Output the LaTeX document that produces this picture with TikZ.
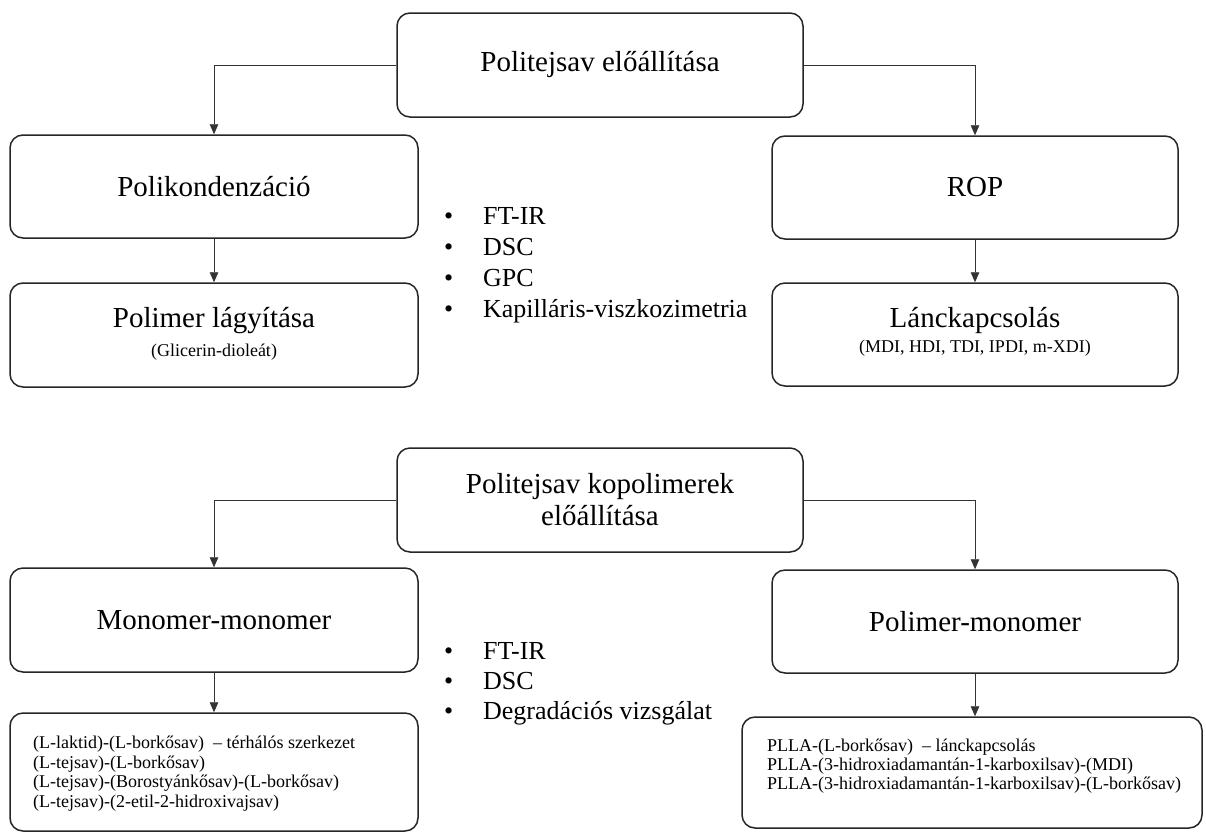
\documentclass[tikz,border=0pt]{standalone}
\usepackage{fontspec}
\setmainfont{Liberation Serif}
\usetikzlibrary{arrows.meta}
\begin{document}
\begin{tikzpicture}[x=1pt,y=-1pt,
  box/.style={draw=black!85, line width=1.5pt, rounded corners=13pt, inner sep=0pt},
  conn/.style={draw=black!80, line width=0.9pt, -{Triangle[length=10pt,width=8.5pt]}},
  title/.style={font=\fontsize{29}{33}\selectfont, align=center},
  subt/.style={font=\fontsize{18}{20}\selectfont, inner sep=0pt},
  small/.style={font=\fontsize{18}{19.7}\selectfont, inner sep=0pt, align=left, anchor=west},
  blist/.style={font=\fontsize{26}{31}\selectfont, inner sep=0pt, align=left, anchor=west}]
\useasboundingbox (0,0) rectangle (1206,833);
\fill[white] (0,0) rectangle (1206,833);

% ---------- section 1 ----------
\node[box, title, minimum width=406pt, minimum height=104pt] (t1) at (600,65) {Politejsav előállítása};
\node[box, title, minimum width=408pt, minimum height=103pt] (p1) at (214,186.5) {Polikondenzáció};
\node[box, minimum width=408pt, minimum height=104pt] (p2) at (214,335) {};
\node[title, inner sep=0pt] (p2t) at (214,321) {Polimer lágyítása};
\node[subt] (p2s) at (214,352) {(Glicerin-dioleát)};
\node[box, title, minimum width=406pt, minimum height=103pt] (r1) at (975,187.5) {ROP};
\node[box, minimum width=406pt, minimum height=103pt] (r2) at (975,334.5) {};
\node[title, inner sep=0pt] (r2t) at (975,320) {Lánckapcsolás};
\node[subt] (r2s) at (975,348) {(MDI, HDI, TDI, IPDI, m-XDI)};

\draw[conn] (t1.west) -| (p1.north);
\draw[conn] (t1.east) -| (r1.north);
\draw[conn] (p1.south) -- (p2.north);
\draw[conn] (r1.south) -- (r2.north);

\node[blist] (b1) at (444,265.5) {\makebox[39pt][l]{•}FT-IR\\ \makebox[39pt][l]{•}DSC\\ \makebox[39pt][l]{•}GPC\\ \makebox[39pt][l]{•}Kapilláris-viszkozimetria};

% ---------- section 2 ----------
\node[box, font=\fontsize{29}{32}\selectfont, align=center, minimum width=406pt, minimum height=104pt] (t2) at (600,500) {Politejsav kopolimerek\\előállítása};
\node[box, title, minimum width=408pt, minimum height=104pt] (m1) at (214,620) {Monomer-monomer};
\node[box, title, minimum width=406pt, minimum height=103pt] (pm1) at (975,621.5) {Polimer-monomer};
\node[box, minimum width=408pt, minimum height=118pt] (m2) at (214,772) {};
\node[box, minimum width=460pt, minimum height=111pt] (pm2) at (972,772.5) {};

\node[small] (m2t) at (33,773.5) {(L-laktid)-(L-borkősav) \ – térhálós szerkezet\\(L-tejsav)-(L-borkősav)\\(L-tejsav)-(Borostyánkősav)-(L-borkősav)\\(L-tejsav)-(2-etil-2-hidroxivajsav)};
\node[small, font=\fontsize{18}{19}\selectfont] (pm2t) at (767,766) {PLLA-(L-borkősav) \ – lánckapcsolás\\PLLA-(3-hidroxiadamantán-1-karboxilsav)-(MDI)\\PLLA-(3-hidroxiadamantán-1-karboxilsav)-(L-borkősav)};

\draw[conn] (t2.west) -| (m1.north);
\draw[conn] (t2.east) -| (pm1.north);
\draw[conn] (m1.south) -- (m2.north);
\draw[conn] (pm1.south) -- (pm1.south |- pm2.north);

\node[blist, font=\fontsize{26}{30}\selectfont] (b2) at (444,684) {\makebox[39pt][l]{•}FT-IR\\ \makebox[39pt][l]{•}DSC\\ \makebox[39pt][l]{•}Degradációs vizsgálat};
\end{tikzpicture}
\end{document}
